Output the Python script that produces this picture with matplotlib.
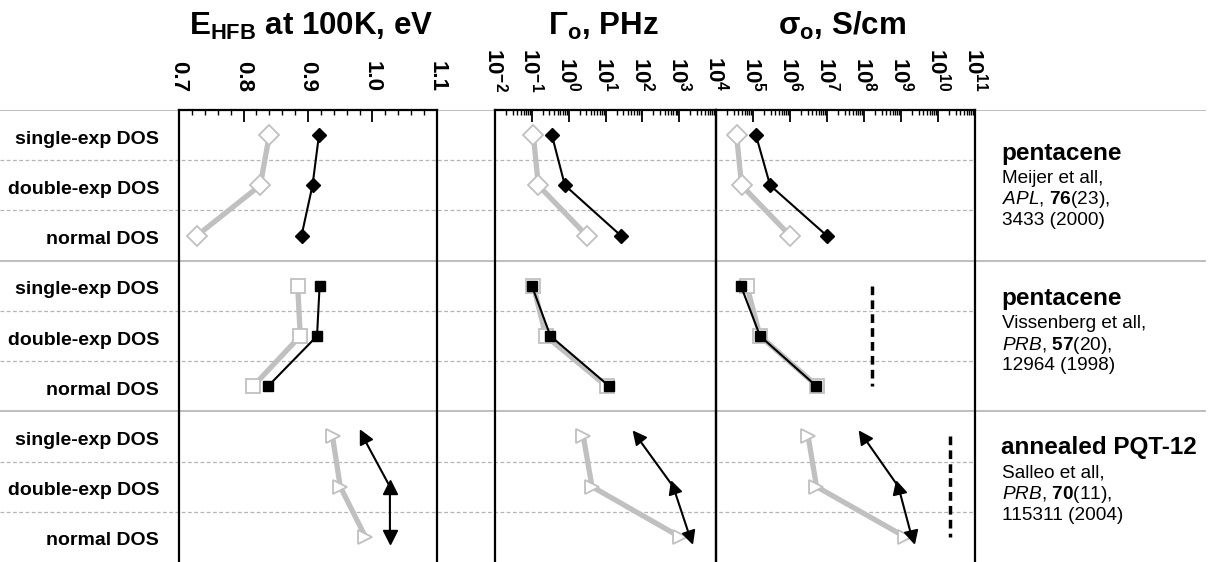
import matplotlib
matplotlib.use("Agg")
import matplotlib.pyplot as plt
import numpy as np
from matplotlib import ticker
from matplotlib.markers import MarkerStyle
from matplotlib.transforms import Affine2D

plt.rcParams["font.family"] = ["Liberation Sans", "DejaVu Sans"]
plt.rcParams["mathtext.fontset"] = "custom"
plt.rcParams["mathtext.rm"] = "Liberation Sans"
plt.rcParams["mathtext.it"] = "Liberation Sans:italic"
plt.rcParams["mathtext.bf"] = "Liberation Sans:bold"

# Rows (top to bottom), three DOS models per material
row_labels = ["single-exp DOS", "double-exp DOS", "normal DOS"] * 3
group_names = ["pentacene", "pentacene", "annealed PQT-12"]
group_refs = [
    ["Meijer et all,", r"$\mathit{APL}$, $\mathbf{76}$(23),", "3433 (2000)"],
    ["Vissenberg et all,", r"$\mathit{PRB}$, $\mathbf{57}$(20),", "12964 (1998)"],
    ["Salleo et all,", r"$\mathit{PRB}$, $\mathbf{70}$(11),", "115311 (2004)"],
]

# E_HFB at 100K, eV
e_gray = [0.840, 0.826, 0.728, 0.884, 0.888, 0.815, 0.938, 0.950, 0.989]
e_black = [0.917, 0.907, 0.890, 0.918, 0.914, 0.838, 0.985, 1.027, 1.027]

# Gamma_o, PHz
gamma_gray = [0.11, 0.15, 3.1, 0.11, 0.24, 10.7, 2.5, 4.3, 1050]
gamma_black = [0.35, 0.79, 26, 0.10, 0.32, 12.6, 71, 690, 1950]

# sigma_o, S/cm
sigma_gray = [3.6e4, 4.9e4, 1.0e6, 6.8e4, 1.55e5, 5.5e6, 3.1e6, 5.2e6, 1.3e9]
sigma_black = [1.2e5, 2.9e5, 9.8e6, 4.7e4, 1.55e5, 5.2e6, 9.5e7, 8.5e8, 1.95e9]
sigma_limit = [None, 1.6e8, 2.1e10]

e_ticks = [0.7, 0.8, 0.9, 1.0, 1.1]
gamma_exps = [-2, -1, 0, 1, 2, 3, 4]
sigma_exps = [4, 5, 6, 7, 8, 9, 10, 11]

GRAY = "#c0c0c0"
W, H = 1214, 562
TOP = 110  # px from top where the panels start

fig = plt.figure(figsize=(W / 100, H / 100), dpi=100)


def rect(x0, x1):
    return [x0 / W, 0, (x1 - x0) / W, (H - TOP) / H]


# background axes for the row grid and the text columns
bg = fig.add_axes(rect(0, W))
bg.set_xlim(0, W)
bg.set_ylim(9, 0)
bg.axis("off")
for y in range(9):
    if y % 3 == 0:
        bg.axhline(y, 0, 1205 / W, color="#b8b8b8", lw=1.3)
    else:
        bg.axhline(y, 0, 975 / W, color="#b4b4b4", lw=0.9, ls=(0, (3, 2)))

for i, label in enumerate(row_labels):
    bg.text(159, i + 0.5 + 0.17, label, ha="right", va="baseline",
            fontsize=14, fontweight="bold")

title_offsets = [0.86, 0.75, 0.73]
for g, name in enumerate(group_names):
    y0 = 3 * g + title_offsets[g]
    bg.text(1001, y0, name, ha="left", va="center", fontsize=17.5, fontweight="bold")
    for k, line in enumerate(group_refs[g]):
        bg.text(1002, y0 + [0.5, 0.93, 1.34][k], line, ha="left", va="center",
                fontsize=13.7)

ax_e = fig.add_axes(rect(179, 437))
ax_g = fig.add_axes(rect(495, 716))
ax_s = fig.add_axes(rect(716, 975))

for ax in (ax_e, ax_g, ax_s):
    ax.set_facecolor("none")
    ax.set_ylim(9, 0)
    ax.set_yticks([])
    ax.spines["bottom"].set_visible(False)
    for side in ("top", "left", "right"):
        ax.spines[side].set_linewidth(1.6)
    ax.xaxis.tick_top()
    ax.tick_params(axis="x", which="both", direction="in", top=True, bottom=False,
                   labeltop=True, labelbottom=False, labelrotation=270, pad=13)
    ax.tick_params(axis="x", which="major", length=8.5, width=1.3, labelsize=16)
    ax.tick_params(axis="x", which="minor", length=3.8, width=1.0)

ax_e.set_xlim(0.7, 1.1)
ax_e.set_xticks(e_ticks)
ax_e.set_xticklabels([f"{t:.1f}" for t in e_ticks], fontweight="bold")
ax_e.xaxis.set_minor_locator(ticker.MultipleLocator(0.02))

for ax, exps in ((ax_g, gamma_exps), (ax_s, sigma_exps)):
    ax.set_xscale("log")
    ax.set_xlim(10.0 ** exps[0], 10.0 ** exps[-1])
    ax.set_xticks([10.0 ** e for e in exps])
    ax.xaxis.set_minor_locator(ticker.LogLocator(base=10, subs=np.arange(2, 10), numticks=30))
    ax.xaxis.set_minor_formatter(ticker.NullFormatter())
ax_g.set_xticklabels([r"$\mathbf{10^{%d}}$" % e for e in gamma_exps])
# 10^4 is already labelled by the Gamma panel
ax_s.set_xticklabels([""] + [r"$\mathbf{10^{%d}}$" % e for e in sigma_exps[1:]])

title_y = 1 - 35 / H
fig.text(311 / W, title_y, r"E$_{\mathbf{HFB}}$ at 100K, eV", ha="center", va="baseline",
         fontsize=22.5, fontweight="bold")
fig.text(603 / W, title_y, r"Γ$_{\mathbf{o}}$, PHz", ha="center", va="baseline",
         fontsize=22.5, fontweight="bold")
fig.text(842 / W, title_y, r"σ$_{\mathbf{o}}$, S/cm", ha="center", va="baseline",
         fontsize=22.5, fontweight="bold")


def draw_arrowheads(ax, x, y, size):
    # triangles pointing along the line, away from the neighbouring point
    pts = ax.transData.transform(np.column_stack([x, y]))
    for i in range(len(pts)):
        d = pts[i] - pts[i + 1] if i < len(pts) - 1 else pts[i] - pts[i - 1]
        angle = np.degrees(np.arctan2(d[1], d[0]))
        m = MarkerStyle("^", transform=Affine2D().rotate_deg(angle - 90))
        ax.plot([x[i]], [y[i]], marker=m, ms=size, color="k", ls="none", zorder=4)


gray_style = {"D": 10.5, "s": 10, ">": 10}
black_style = {"D": 7, "s": 6.5}
markers = ["D", "s", ">"]

for ax, gray, black in ((ax_e, e_gray, e_black), (ax_g, gamma_gray, gamma_black),
                        (ax_s, sigma_gray, sigma_black)):
    for g in range(3):
        idx = slice(3 * g, 3 * g + 3)
        ys = np.arange(3 * g, 3 * g + 3) + 0.5
        m = markers[g]
        ax.plot(gray[idx], ys, color=GRAY, lw=3.8, marker=m, ms=gray_style[m],
                mfc="white", mec=GRAY, mew=1.3, zorder=2, solid_capstyle="butt")
        if m == ">":
            ax.plot(black[idx], ys, color="k", lw=1.5, zorder=3)
            draw_arrowheads(ax, black[idx], ys, 9.5)
        else:
            ax.plot(black[idx], ys, color="k", lw=1.5, marker=m, ms=black_style[m],
                    mfc="k", mec="k", zorder=3)

for g, lim in enumerate(sigma_limit):
    if lim is not None:
        ax_s.plot([lim, lim], [3 * g + 0.5, 3 * g + 2.5], color="k", lw=2.5,
                  ls=(0, (2.5, 1.5)), zorder=3)

fig.savefig("out.png", dpi=100)
